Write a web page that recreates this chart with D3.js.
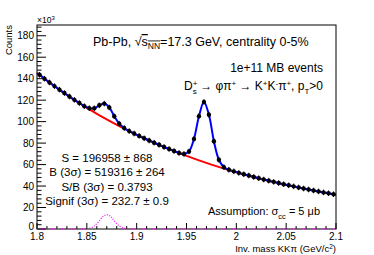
<!DOCTYPE html>
<html>
<head>
<meta charset="utf-8">
<script src="https://cdn.jsdelivr.net/npm/d3@7"></script>
<style>
  body { margin: 0; background: #fff; }
  text { font-family: "Liberation Sans", Arial, sans-serif; fill: #000; }
</style>
</head>
<body>
<svg width="374" height="255"></svg>
<script>
// bin centres (GeV/c^2) and counts (x10^3)
var mass = d3.range(60).map(function(i) { return 1.8025 + 0.005 * i; });
var counts = [
  143.6, 140.0, 136.5, 133.1, 129.8, 126.6, 123.4, 120.3, 117.3, 114.4,
  112.5, 112.4, 115.2, 116.8, 113.2, 105.0, 98.1, 94.0, 91.2, 88.9,
  86.7, 84.5, 82.4, 80.4, 78.4, 76.4, 74.5, 72.6, 70.8, 69.9,
  72.2, 83.9, 105.1, 118.3, 106.4, 81.7, 64.5, 57.6, 55.2, 53.7,
  52.3, 51.0, 49.8, 48.5, 47.3, 46.1, 45.0, 43.9, 42.8, 41.7,
  40.7, 39.7, 38.7, 37.7, 36.8, 35.9, 35.0, 34.1, 33.3, 32.4
];
// background fit (red), knots
var bgMass = [1.8, 1.825, 1.85, 1.875, 1.9, 1.925, 1.95, 1.975, 2.0, 2.025, 2.05, 2.075, 2.1];
var bgVal = [145.3, 128.0, 112.9, 99.5, 87.7, 77.3, 68.1, 60.0, 52.9, 46.6, 41.1, 36.2, 31.9];
// D+ template (magenta dotted)
var dpMass = [1.8, 1.845, 1.852, 1.857, 1.862, 1.866, 1.870, 1.874, 1.878, 1.883, 1.888, 1.895, 2.1];
var dpVal = [0, 0, 0.6, 2.5, 7.0, 11.5, 13.3, 11.5, 7.0, 2.5, 0.6, 0, 0];

var xTicks = [1.8, 1.85, 1.9, 1.95, 2, 2.05, 2.1];
var yTicks = [0, 20, 40, 60, 80, 100, 120, 140, 160, 180];

var margin = {top: 25, right: 38, bottom: 26, left: 37},
    width = 374 - margin.left - margin.right,
    height = 255 - margin.top - margin.bottom;

var svg = d3.select("svg").append("g")
    .attr("transform", "translate(" + margin.left + "," + margin.top + ")");

var x = d3.scaleLinear().domain([1.8, 2.1]).range([0, width]);
var y = d3.scaleLinear().domain([0, 190]).range([height, 0]);

// frame
svg.append("rect")
    .attr("width", width).attr("height", height)
    .attr("fill", "none").attr("stroke", "#000").attr("stroke-width", 1);

// ticks (ROOT style, pointing inward)
var xMinor = d3.range(0, 31).map(function(i) { return 1.8 + i * 0.01; });
svg.append("g").selectAll("line").data(xMinor).enter().append("line")
    .attr("x1", function(d) { return x(d); }).attr("x2", function(d) { return x(d); })
    .attr("y1", height)
    .attr("y2", function(d, i) { return height - (i % 5 == 0 ? 6 : 3); })
    .attr("stroke", "#000");
var yMinor = d3.range(0, 48).map(function(i) { return i * 4; });
svg.append("g").selectAll("line").data(yMinor).enter().append("line")
    .attr("y1", function(d) { return y(d); }).attr("y2", function(d) { return y(d); })
    .attr("x1", 0)
    .attr("x2", function(d, i) { return i % 5 == 0 ? 9 : 4.5; })
    .attr("stroke", "#000");

svg.append("g").selectAll("text").data(xTicks).enter().append("text")
    .attr("x", function(d) { return x(d); })
    .attr("y", height + 10.5)
    .attr("text-anchor", "middle")
    .style("font-size", "10px")
    .text(function(d) { return d; });
svg.append("g").selectAll("text").data(yTicks).enter().append("text")
    .attr("x", -3)
    .attr("y", function(d) { return y(d) + (d == 0 ? 0.5 : 3.5); })
    .attr("text-anchor", "end")
    .style("font-size", "10px")
    .text(function(d) { return d; });

svg.append("text").attr("x", 0).attr("y", -2).style("font-size", "8.5px")
  .text("\u00d710").append("tspan").attr("dy", -3).style("font-size", "6px").text("3");

svg.append("text")
    .attr("transform", "translate(-25,0) rotate(-90)")
    .attr("text-anchor", "end")
    .style("font-size", "9.5px")
    .text("Counts");

var xt = svg.append("text").attr("x", width).attr("y", height + 23)
    .attr("text-anchor", "end").style("font-size", "9.5px");
xt.append("tspan").text("Inv. mass KK\u03c0 (GeV/c");
xt.append("tspan").attr("dy", -3.5).style("font-size", "6.5px").text("2");
xt.append("tspan").attr("dy", 3.5).text(")");

// D+ template
svg.append("path")
    .attr("fill", "none").attr("stroke", "#ff00ff").attr("stroke-width", 1.2)
    .attr("stroke-dasharray", "1,1.5")
    .attr("d", d3.line().curve(d3.curveMonotoneX)
        .x(function(d, i) { return x(dpMass[i]); })
        .y(function(d) { return y(d); })(dpVal));

// background fit
svg.append("path")
    .attr("fill", "none").attr("stroke", "#ff0000").attr("stroke-width", 2)
    .attr("d", d3.line().curve(d3.curveNatural)
        .x(function(d, i) { return x(bgMass[i]); })
        .y(function(d) { return y(d); })(bgVal));

// total fit
var fitMass = [1.8].concat(mass, [2.1]);
var fitVal = [145.3].concat(counts, [31.9]);
svg.append("path")
    .attr("fill", "none").attr("stroke", "#0000ff").attr("stroke-width", 2)
    .attr("d", d3.line().curve(d3.curveCatmullRom.alpha(0.5))
        .x(function(d, i) { return x(fitMass[i]); })
        .y(function(d) { return y(d); })(fitVal));

// data points
var pts = svg.append("g");
pts.selectAll("line").data(counts).enter().append("line")
    .attr("x1", function(d, i) { return x(mass[i]); })
    .attr("x2", function(d, i) { return x(mass[i]); })
    .attr("y1", function(d) { return y(d) - 2.8; })
    .attr("y2", function(d) { return y(d) + 2.8; })
    .attr("stroke", "#000").attr("stroke-width", 1);
pts.selectAll("circle").data(counts).enter().append("circle")
    .attr("cx", function(d, i) { return x(mass[i]); })
    .attr("cy", function(d) { return y(d); })
    .attr("r", 2.2)
    .attr("fill", "#000");

// labels
var t1 = svg.append("text").attr("x", 56).attr("y", 21).style("font-size", "12.5px");
t1.append("tspan").text("Pb-Pb, \u221a");
t1.append("tspan").style("text-decoration", "overline").text("s");
t1.append("tspan").attr("dy", 2.5).style("font-size", "8.5px").style("text-decoration", "overline").text("NN");
t1.append("tspan").attr("dy", -2.5).text("=17.3 GeV, centrality 0-5%");

svg.append("text").attr("x", 286).attr("y", 47).attr("text-anchor", "end")
    .style("font-size", "12px").text("1e+11 MB events");

var t3 = svg.append("text").attr("x", 286).attr("y", 65).attr("text-anchor", "end").style("font-size", "12px");
t3.append("tspan").text("D");
t3.append("tspan").attr("dy", -4.5).style("font-size", "8px").text("+");
t3.append("tspan").attr("dx", -4.5).attr("dy", 8).style("font-size", "8px").text("s");
t3.append("tspan").attr("dy", -3.5).text(" \u2192 \u03c6\u03c0");
t3.append("tspan").attr("dy", -4.5).style("font-size", "8px").text("+");
t3.append("tspan").attr("dy", 4.5).text(" \u2192 K");
t3.append("tspan").attr("dy", -4.5).style("font-size", "8px").text("+");
t3.append("tspan").attr("dy", 4.5).text("K");
t3.append("tspan").attr("dy", -4.5).style("font-size", "8px").text("-");
t3.append("tspan").attr("dy", 4.5).text("\u03c0");
t3.append("tspan").attr("dy", -4.5).style("font-size", "8px").text("+");
t3.append("tspan").attr("dy", 4.5).text(", p");
t3.append("tspan").attr("dy", 3.5).style("font-size", "8px").text("T");
t3.append("tspan").attr("dy", -3.5).text(">0");

var stats = ["S = 196958 \u00b1 868", "B (3\u03c3) = 519316 \u00b1 264",
             "S/B (3\u03c3) = 0.3793", "Signif (3\u03c3) = 232.7 \u00b1 0.9"];
svg.append("g").selectAll("text").data(stats).enter().append("text")
    .attr("x", 70).attr("y", function(d, i) { return 136.5 + i * 14.5; })
    .attr("text-anchor", "middle").style("font-size", "11.5px")
    .text(function(d) { return d; });

var t4 = svg.append("text").attr("x", 283).attr("y", 190).attr("text-anchor", "end").style("font-size", "11px");
t4.append("tspan").text("Assumption: \u03c3");
t4.append("tspan").attr("dy", 3.5).style("font-size", "7.5px").text("cc");
t4.append("tspan").attr("dy", -3.5).text(" = 5 \u03bcb");
</script>
</body>
</html>
